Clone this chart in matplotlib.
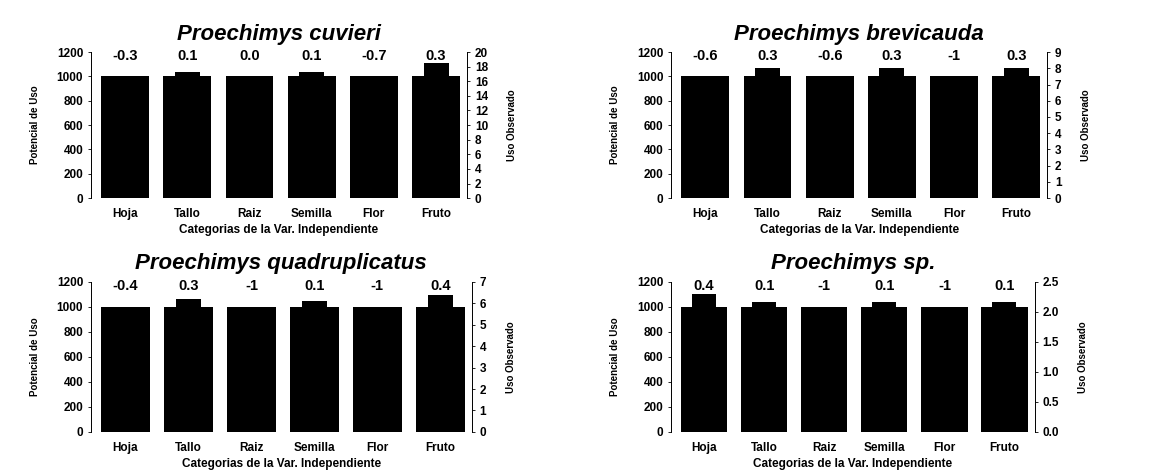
import matplotlib.pyplot as plt
import numpy as np

plt.rcParams['font.family'] = ['Liberation Sans', 'DejaVu Sans']

categorias = ["Hoja", "Tallo", "Raiz", "Semilla", "Flor", "Fruto"]
especies = ["Proechimys cuvieri", "Proechimys brevicauda",
            "Proechimys quadruplicatus", "Proechimys sp."]

# potencial de uso (eje izquierdo)
potencial = [1000, 1000, 1000, 1000, 1000, 1000]

# uso observado (eje derecho)
obs_cuvieri = [12, 17.2, 16.5, 17.2, 5, 18.5]
obs_brevicauda = [2, 8, 2, 8, 0, 8]
obs_quadruplicatus = [3, 6.2, 0, 6.1, 0, 6.4]
obs_sp = [2.3, 2.17, 0, 2.17, 0, 2.17]

# indice sobre cada barra
ind_cuvieri = ["-0.3", "0.1", "0.0", "0.1", "-0.7", "0.3"]
ind_brevicauda = ["-0.6", "0.3", "-0.6", "0.3", "-1", "0.3"]
ind_quadruplicatus = ["-0.4", "0.3", "-1", "0.1", "-1", "0.4"]
ind_sp = ["0.4", "0.1", "-1", "0.1", "-1", "0.1"]

# limites y ticks del eje derecho
der_max = [20, 9, 7, 2.5]
der_paso = [2, 1, 1, 0.5]
der_fmt = ["{:.0f}", "{:.0f}", "{:.0f}", "{:.1f}"]

observados = [obs_cuvieri, obs_brevicauda, obs_quadruplicatus, obs_sp]
indices = [ind_cuvieri, ind_brevicauda, ind_quadruplicatus, ind_sp]

rects = [[0.078, 0.581, 0.323, 0.309],
         [0.576, 0.581, 0.323, 0.309],
         [0.078, 0.087, 0.327, 0.317],
         [0.576, 0.087, 0.312, 0.317]]

fig = plt.figure(figsize=(11.65, 4.73), dpi=100)
x = np.arange(len(categorias))

for i in range(4):
    ax = fig.add_axes(rects[i])
    ax.bar(x, potencial, width=0.77, color="black", zorder=2)
    ax.set_ylim(0, 1200)
    ax.set_yticks(range(0, 1201, 200))
    ax.set_xlim(-0.55, 5.5)
    ax.set_xticks(x)
    ax.set_xticklabels(categorias, fontsize=8.5, fontweight="bold")
    ax.tick_params(axis="x", length=0, pad=7)
    ax.tick_params(axis="y", labelsize=8.5, length=2, width=0.6)
    for lab in ax.get_yticklabels():
        lab.set_fontweight("bold")
    ax.set_ylabel("Potencial de Uso", fontsize=7, fontweight="bold", labelpad=12)
    ax.set_xlabel("Categorias de la Var. Independiente", fontsize=8.5,
                  fontweight="bold", labelpad=3)
    ax.set_title(especies[i], fontsize=16, fontweight="bold", style="italic", pad=9)

    ax2 = ax.twinx()
    ax2.bar(x, observados[i], width=0.4, color="black", zorder=3)
    ax2.set_ylim(0, der_max[i])
    ticks = np.arange(0, der_max[i] + der_paso[i] / 2, der_paso[i])
    ax2.set_yticks(ticks)
    ax2.set_yticklabels([der_fmt[i].format(t) for t in ticks], fontsize=8.5,
                        fontweight="bold")
    ax2.tick_params(axis="y", length=2, width=0.6)
    ax2.set_ylabel("Uso Observado", fontsize=7, fontweight="bold", labelpad=14)

    for a in (ax, ax2):
        a.spines["top"].set_visible(False)
        a.spines["bottom"].set_visible(False)
        a.spines["left"].set_linewidth(0.6)
        a.spines["right"].set_linewidth(0.6)

    for xi, t in zip(x, indices[i]):
        ax.text(xi, 1165, t, ha="center", va="center", fontsize=10.5,
                fontweight="bold", zorder=5)

fig.savefig("out.png", dpi=100)
